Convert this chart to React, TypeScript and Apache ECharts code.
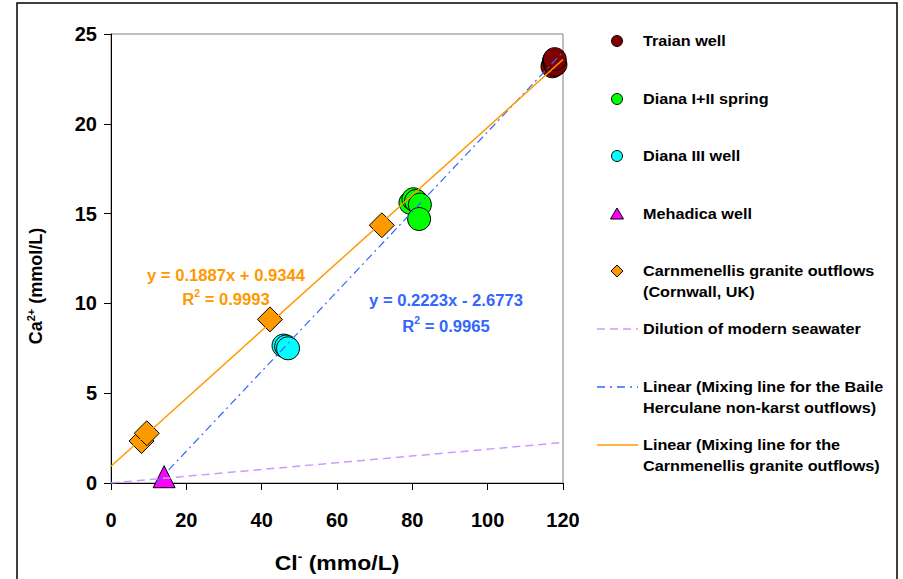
import React, { useEffect, useRef } from "react";
import * as echarts from "echarts";

// Sample groups: [Cl- (mmol/L), Ca2+ (mmol/L)]
const traianWell = [
  [117.2, 23.2],
  [117.6, 23.5],
  [118.0, 23.3],
  [117.8, 23.6],
];
const dianaSpring = [
  [79.5, 15.6],
  [80.3, 15.8],
  [81.0, 15.7],
  [82.0, 15.5],
  [81.8, 14.7],
];
const dianaIIIWell = [
  [45.8, 7.65],
  [46.5, 7.6],
  [47.0, 7.5],
];
const mehadicaWell = [[14.1, 0.35]];
const carnmenellis = [
  [8.1, 2.34],
  [9.5, 2.77],
  [42.2, 9.11],
  [71.9, 14.35],
];

// Fitted mixing lines and seawater dilution ratio
const carnFit = { slope: 0.1887, intercept: 0.9344, r2: "0.9993" };
const baileFit = { slope: 0.2223, intercept: -2.6773, r2: "0.9965" };
const seawaterCaPerCl = 0.0188;

const xTicks = { min: 0, max: 120, step: 20 };
const yTicks = { min: 0, max: 25, step: 5 };

const legendLabels = [
  ["Traian well"],
  ["Diana I+II spring"],
  ["Diana III well"],
  ["Mehadica well"],
  ["Carnmenellis granite outflows", "(Cornwall, UK)"],
  ["Dilution of modern seawater"],
  ["Linear (Mixing line for the Baile", "Herculane non-karst outflows)"],
  ["Linear (Mixing line for the", "Carnmenellis granite outflows)"],
];

const FONT = "'Liberation Sans', Arial, sans-serif";
const ORANGE = "#FF9900";
const BLUE = "#3366FF";
const PURPLE = "#CC99FF";

const fitLine = (f: { slope: number; intercept: number }, x0: number, x1: number) => [
  [x0, f.slope * x0 + f.intercept],
  [x1, f.slope * x1 + f.intercept],
];

export default function App() {
  const ref = useRef<HTMLDivElement>(null);

  useEffect(() => {
    if (!ref.current) return;
    const chart = echarts.init(ref.current, null, { renderer: "svg" });

    const baileStart = -baileFit.intercept / baileFit.slope;

    const scatter = (name: string, data: number[][], symbol: string, size: number, color: string) => ({
      name,
      type: "scatter",
      data,
      symbol,
      symbolSize: size,
      itemStyle: { color, borderColor: "#000", borderWidth: 1, opacity: 1 },
      z: 2,
    });

    const line = (name: string, data: number[][], color: string, type: any, width: number) => ({
      name,
      type: "line",
      data,
      symbol: "none",
      lineStyle: { color, type, width },
      z: 3,
    });

    // Legend: marker or line sample, then one text element per line
    const legendX = 617;
    const textX = 643;
    const rowsY = [41, 99, 156, 214, 271, 329, 387, 445];
    const lineGap = 21;
    const legendGraphics: any[] = [];
    const markerStyle = (fill: string) => ({ fill, stroke: "#000", lineWidth: 1 });
    legendGraphics.push({ type: "circle", shape: { cx: legendX, cy: rowsY[0], r: 5.5 }, style: markerStyle("#800000") });
    legendGraphics.push({ type: "circle", shape: { cx: legendX, cy: rowsY[1], r: 5.5 }, style: markerStyle("#00FF00") });
    legendGraphics.push({ type: "circle", shape: { cx: legendX, cy: rowsY[2], r: 5.5 }, style: markerStyle("#00FFFF") });
    legendGraphics.push({
      type: "polygon",
      shape: { points: [[legendX, rowsY[3] - 6], [legendX + 6.5, rowsY[3] + 5], [legendX - 6.5, rowsY[3] + 5]] },
      style: markerStyle("#FF00FF"),
    });
    legendGraphics.push({
      type: "polygon",
      shape: { points: [[legendX, rowsY[4] - 6], [legendX + 6, rowsY[4]], [legendX, rowsY[4] + 6], [legendX - 6, rowsY[4]]] },
      style: markerStyle(ORANGE),
    });
    legendGraphics.push({
      type: "line",
      shape: { x1: 597, y1: rowsY[5], x2: 638, y2: rowsY[5] },
      style: { stroke: PURPLE, lineWidth: 1.5, lineDash: [8, 5] },
    });
    legendGraphics.push({
      type: "line",
      shape: { x1: 597, y1: rowsY[6], x2: 638, y2: rowsY[6] },
      style: { stroke: BLUE, lineWidth: 1.5, lineDash: [8, 5, 2, 5] },
    });
    legendGraphics.push({
      type: "line",
      shape: { x1: 597, y1: rowsY[7], x2: 638, y2: rowsY[7] },
      style: { stroke: ORANGE, lineWidth: 1.5 },
    });
    legendLabels.forEach((lines, i) => {
      lines.forEach((t, j) => {
        legendGraphics.push({
          type: "text",
          x: textX,
          y: rowsY[i] + j * lineGap,
          scaleX: 1.08,
          style: {
            text: t,
            font: `bold 15px ${FONT}`,
            fill: "#000",
            align: "left",
            verticalAlign: "middle",
          },
        });
      });
    });

    // Rich-text styles with a raised, smaller token for superscripts
    const supRich = (color: string, size: number) => {
      const supSize = Math.round(size * 0.62);
      return {
        b: { fontFamily: FONT, fontWeight: "bold", fontSize: size, fill: color, lineHeight: size + 2, verticalAlign: "bottom" },
        s: { fontFamily: FONT, fontWeight: "bold", fontSize: supSize, fill: color, lineHeight: supSize, verticalAlign: "top" },
      };
    };

    chart.setOption({
      animation: false,
      backgroundColor: "#fff",
      grid: {
        left: 111,
        top: 34,
        right: 903 - 563,
        bottom: 579 - 483,
        show: true,
        borderColor: "#808080",
        borderWidth: 1,
      },
      xAxis: {
        type: "value",
        min: xTicks.min,
        max: xTicks.max,
        interval: xTicks.step,
        axisLine: { show: true, lineStyle: { color: "#000", width: 1 } },
        axisTick: { show: true, inside: false, length: 7, lineStyle: { color: "#000" } },
        splitLine: { show: false },
        axisLabel: { fontFamily: FONT, fontWeight: "bold", fontSize: 20, color: "#000", margin: 27 },
      },
      yAxis: {
        type: "value",
        min: yTicks.min,
        max: yTicks.max,
        interval: yTicks.step,
        axisLine: { show: true, lineStyle: { color: "#000", width: 1 } },
        axisTick: { show: true, inside: false, length: 7, lineStyle: { color: "#000" } },
        splitLine: { show: false },
        axisLabel: { fontFamily: FONT, fontWeight: "bold", fontSize: 20, color: "#000", margin: 14 },
      },
      series: [
        scatter("Traian well", traianWell, "circle", 23, "#800000"),
        scatter("Diana I+II spring", dianaSpring, "circle", 23, "#00FF00"),
        scatter("Diana III well", dianaIIIWell, "circle", 23, "#00FFFF"),
        scatter("Mehadica well", mehadicaWell, "triangle", 22, "#FF00FF"),
        scatter("Carnmenellis granite outflows (Cornwall, UK)", carnmenellis, "diamond", 25, ORANGE),
        line("Dilution of modern seawater", [[0, 0], [120, 120 * seawaterCaPerCl]], PURPLE, [8, 5], 1.5),
        line("Linear (Baile Herculane)", fitLine(baileFit, baileStart, 120), BLUE, [8, 4, 2, 4], 1.2),
        line("Linear (Carnmenellis)", fitLine(carnFit, 0, 120), ORANGE, "solid", 1.5),
      ],
      graphic: [
        {
          type: "rect",
          shape: { x: 17, y: 3, width: 880, height: 600 },
          style: { fill: "none", stroke: "#000", lineWidth: 1.5 },
          silent: true,
        },
        {
          type: "text",
          x: 337,
          y: 562,
          scaleX: 1.15,
          style: {
            text: "{b|Cl}{s|-}{b| (mmo/L)}",
            rich: supRich("#000", 20),
            align: "center",
            verticalAlign: "middle",
          },
        },
        {
          type: "text",
          x: 35,
          y: 286,
          rotation: Math.PI / 2,
          style: {
            text: "{b|Ca}{s|2+}{b| (mmol/L)}",
            rich: supRich("#000", 18),
            align: "center",
            verticalAlign: "middle",
          },
        },
        {
          type: "text",
          x: 226,
          y: 275,
          scaleX: 1.04,
          style: {
            text: `y = ${carnFit.slope}x + ${carnFit.intercept}`,
            font: `bold 16px ${FONT}`,
            fill: ORANGE,
            align: "center",
            verticalAlign: "middle",
          },
        },
        {
          type: "text",
          x: 226,
          y: 298,
          scaleX: 1.04,
          style: {
            text: `{b|R}{s|2}{b| = ${carnFit.r2}}`,
            rich: supRich(ORANGE, 16),
            align: "center",
            verticalAlign: "middle",
          },
        },
        {
          type: "text",
          x: 446,
          y: 300,
          scaleX: 1.04,
          style: {
            text: `y = ${baileFit.slope}x - ${Math.abs(baileFit.intercept)}`,
            font: `bold 16px ${FONT}`,
            fill: BLUE,
            align: "center",
            verticalAlign: "middle",
          },
        },
        {
          type: "text",
          x: 446,
          y: 325,
          scaleX: 1.04,
          style: {
            text: `{b|R}{s|2}{b| = ${baileFit.r2}}`,
            rich: supRich(BLUE, 16),
            align: "center",
            verticalAlign: "middle",
          },
        },
        ...legendGraphics,
      ],
    });

    return () => chart.dispose();
  }, []);

  return <div ref={ref} style={{ width: 903, height: 579, position: "absolute", left: 0, top: 0 }} />;
}
